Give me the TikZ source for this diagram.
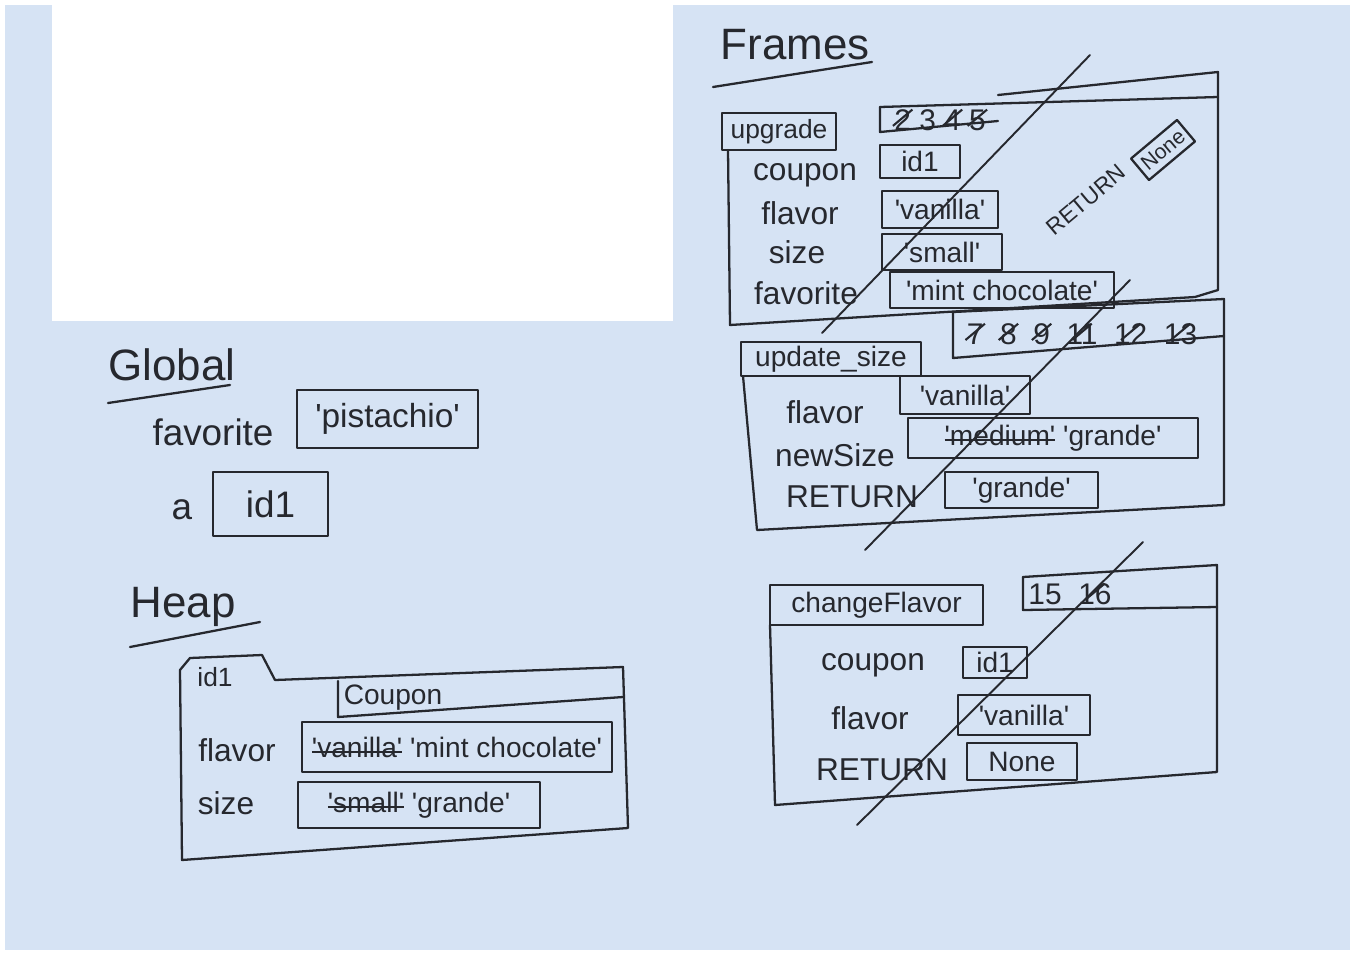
\documentclass[tikz,border=0pt]{standalone}
\usepackage{fontspec}
\setmainfont{Liberation Sans}
\definecolor{paper}{RGB}{214,227,244}
\definecolor{ink}{RGB}{38,40,46}
\newcommand\q{\textquotesingle}
\newcommand\xo[1]{\ooalign{#1\cr\hidewidth\raisebox{0.12em}{\rotatebox{40}{\rule{0.85em}{0.07em}}}\hidewidth\cr}}
\newsavebox\strikebox
\newcommand\so[1]{\sbox\strikebox{#1}\rlap{\rule[0.3ex]{\wd\strikebox}{0.07em}}\usebox\strikebox}
\begin{document}
\begin{tikzpicture}[x=0.02cm,y=-0.02cm,
  pen/.style={draw=ink,line width=1.3pt,line cap=round,line join=round},
  title/.style={text=ink,font=\fontsize{25}{30}\selectfont,inner sep=1pt},
  glab/.style={text=ink,font=\fontsize{21}{25}\selectfont,inner sep=1pt},
  flab/.style={text=ink,font=\fontsize{18}{22}\selectfont,inner sep=1pt},
  vbox/.style={pen,inner sep=0pt,text=ink,font=\fontsize{16}{19}\selectfont},
  tabbox/.style={pen,inner sep=0pt,text=ink,font=\fontsize{15}{18}\selectfont},
  nums/.style={text=ink,font=\fontsize{17}{20}\selectfont,inner sep=1pt},
  bx/.style 2 args={minimum width=#1*0.02cm,minimum height=#2*0.02cm},
  cross/.style={draw=ink,line width=1.1pt,line cap=round}]
% paper
\fill[white] (0,0) rectangle (1358,953);
\fill[paper] (5,5) rectangle (1350,950);
\fill[white] (52,0) rectangle (673,321);
\useasboundingbox (0,0) rectangle (1358,953);

% ---------- Global ----------
\node[title] (globalT) at (172,365) {Global};
\draw[pen] (108,403) -- (230,385);
\node[glab] (gfav) at (213,432) {favorite};
\node[vbox, font=\fontsize{19}{22}\selectfont, bx={181}{58}] (gfavv) at (387.5,419) {\q pistachio\q};
\node[glab] (ga) at (182,510) {a};
\node[vbox, font=\fontsize{21}{25}\selectfont, bx={115}{64}] (gav) at (270.5,504) {id1};

% ---------- Heap ----------
\node[title] (heapT) at (183,607) {Heap};
\draw[pen] (130,647) -- (260,622);
\draw[pen] (182,860) -- (180,670) -- (190,658) -- (262,655) -- (275,680) -- (623,667) -- (628,828) -- cycle;
\node[flab, font=\fontsize{15}{18}\selectfont] (hid) at (215,677) {id1};
\draw[pen] (338,681) -- (338,717) -- (623,697);
\node[flab, font=\fontsize{16}{19}\selectfont] (hcoup) at (393,698) {Coupon};
\node[flab] (hfl) at (237,750) {flavor};
\node[vbox, bx={310}{50}] (hflv) at (457,747) {\so{\q vanilla\q} \q mint chocolate\q};
\node[flab] (hsz) at (226,803) {size};
\node[vbox, bx={242}{46}] (hszv) at (419,805) {\so{\q small\q} \q grande\q};

% ---------- Frames ----------
\node[title] (framesT) at (795,45) {Frames};
\draw[pen] (713,87) -- (872,62);

% upgrade frame
\node[tabbox, bx={114}{37}] (upT) at (779,131.5) {upgrade};
\draw[pen] (880,107) -- (880,132) -- (998,121);
\draw[pen] (880,107) -- (1218,97);
\draw[pen] (998,95) -- (1218,72) -- (1218,290) -- (1195,297) -- (730,325) -- (728,150);
\node[nums] (upN) at (940,120) {\xo{2} 3 \xo{4} \xo{5}};
\node[flab] (upc) at (805,175) {coupon};
\node[vbox, bx={80}{33}] (upcv) at (920,161.5) {id1};
\node[flab] (upf) at (800,213) {flavor};
\node[vbox, bx={116}{37}] (upfv) at (940,209.5) {\q vanilla\q};
\node[flab] (ups) at (797,252) {size};
\node[vbox, bx={120}{36}] (upsv) at (942,252) {\q small\q};
\node[flab] (upfa) at (806,293) {favorite};
\node[vbox, bx={224}{36}] (upfav) at (1002,290) {\q mint chocolate\q};
\node[flab, font=\fontsize{13}{16}\selectfont, rotate=40] (upR) at (1086,200) {RETURN};
\node[vbox, font=\fontsize{12}{14}\selectfont, rotate=40, bx={60}{28}] (upRv) at (1163,150) {None};
\draw[cross] (1090,55) -- (822,333);

% update_size frame
\node[tabbox, font=\fontsize{16}{19}\selectfont, bx={180}{34}] (usT) at (831,359) {update\_size};
\draw[pen] (953,312) -- (953,358) -- (1224,336);
\draw[pen] (953,312) -- (1224,299) -- (1224,505) -- (757,530) -- (743,376);
\node[nums] (usN) at (1082,334) {\xo{7}\ \ \xo{8}\ \ \xo{9}\ \ \xo{11}\ \ \xo{12}\ \ \xo{13}};
\node[flab] (usf) at (825,412) {flavor};
\node[vbox, bx={130}{38}] (usfv) at (965,395) {\q vanilla\q};
\node[flab] (usn) at (835,455) {newSize};
\node[vbox, bx={290}{40}] (usnv) at (1053,438) {\so{\q medium\q} \q grande\q};
\node[flab] (usr) at (852,497) {RETURN};
\node[vbox, bx={153}{36}] (usrv) at (1021.5,490) {\q grande\q};
\draw[cross] (1130,280) -- (865,550);

% changeFlavor frame
\node[tabbox, font=\fontsize{16}{19}\selectfont, bx={213}{40}] (cfT) at (876.5,605) {changeFlavor};
\draw[pen] (1023,577) -- (1023,610) -- (1217,607);
\draw[pen] (1023,577) -- (1217,565) -- (1217,772) -- (775,805) -- (770,625);
\node[nums] (cfN) at (1070,594) {15\ \ \xo{16}};
\node[flab] (cfc) at (873,665) {coupon};
\node[vbox, bx={64}{31}] (cfcv) at (995,662.5) {id1};
\node[flab] (cff) at (870,718) {flavor};
\node[vbox, bx={132}{40}] (cffv) at (1024,715) {\q vanilla\q};
\node[flab] (cfr) at (882,770) {RETURN};
\node[vbox, bx={110}{37}] (cfrv) at (1022,761.5) {None};
\draw[cross] (1143,542) -- (857,825);
\end{tikzpicture}
\end{document}
